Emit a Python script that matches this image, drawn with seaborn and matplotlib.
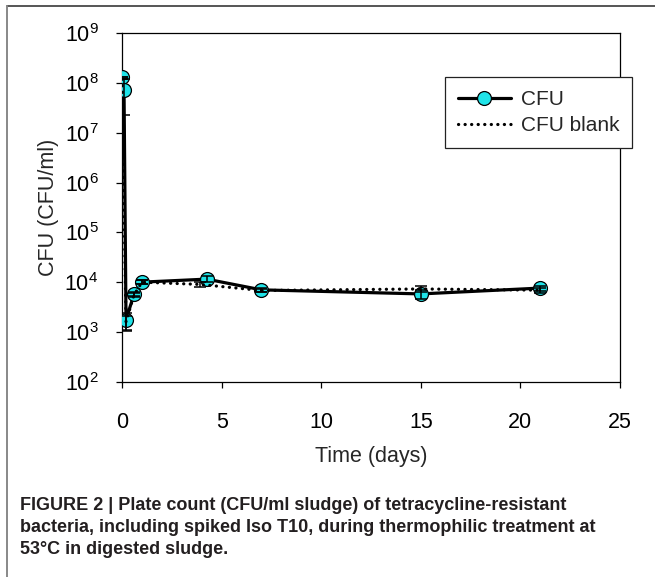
import matplotlib
matplotlib.use("Agg")
import numpy as np
import pandas as pd
import seaborn as sns
import matplotlib.pyplot as plt
from matplotlib import font_manager
from matplotlib.lines import Line2D

# Plate counts of tetracycline-resistant bacteria (CFU/ml sludge)
cfu_days = [0.0, 0.1, 0.2, 0.6, 1.0, 4.25, 7.0, 15.0, 21.0]
cfu_values = [1.3e8, 7.3e7, 1.75e3, 5.7e3, 1.0e4, 1.15e4, 7.0e3, 5.8e3, 7.6e3]
cfu_err = [0.0, 5.0e7, 7.0e2, 5.0e2, 8.0e2, 1.5e3, 6.0e2, 1.2e3, 9.0e2]

blank_days = [0.0, 0.2, 0.6, 1.0, 3.9, 7.0, 15.0, 21.0]
blank_values = [1.2e8, 1.6e3, 5.5e3, 1.0e4, 9.0e3, 6.8e3, 7.3e3, 6.9e3]
blank_err = [0.0, 5.0e2, 5.0e2, 8.0e2, 1.0e3, 5.0e2, 1.0e3, 8.0e2]

x_ticks = [0, 5, 10, 15, 20, 25]
y_exponents = [2, 3, 4, 5, 6, 7, 8, 9]

series_labels = ["CFU", "CFU blank"]
x_label = "Time (days)"
y_label = "CFU (CFU/ml)"
caption_lines = [
    "FIGURE 2 | Plate count (CFU/ml sludge) of tetracycline-resistant",
    "bacteria, including spiked Iso T10, during thermophilic treatment at",
    "53°C in digested sludge.",
]

MARKER_CYAN = "#1FE3E8"

sns.set_style("ticks")
plt.rcParams["font.family"] = ["Liberation Sans", "DejaVu Sans"]
plt.rcParams["mathtext.fontset"] = "custom"
plt.rcParams["mathtext.rm"] = "Liberation Sans"
plt.rcParams["mathtext.default"] = "regular"

available = {f.name for f in font_manager.fontManager.ttflist}
caption_family = "Liberation Sans Narrow" if "Liberation Sans Narrow" in available else "Liberation Sans"

cfu_df = pd.DataFrame({"day": cfu_days, "count": cfu_values, "err": cfu_err})
blank_df = pd.DataFrame({"day": blank_days, "count": blank_values, "err": blank_err})

fig = plt.figure(figsize=(6.55, 5.77), dpi=100)
ax = fig.add_axes([0.1863, 0.3385, 0.7603, 0.6038])

# solid series with cyan markers
sns.lineplot(data=cfu_df, x="day", y="count", ax=ax, color="black", lw=2.3,
             marker="o", markersize=10, markerfacecolor=MARKER_CYAN,
             markeredgecolor="black", markeredgewidth=0.9,
             label=series_labels[0], zorder=3, estimator=None, sort=False)

# dotted blank series, no markers
sns.lineplot(data=blank_df, x="day", y="count", ax=ax, color="black", lw=2.3,
             linestyle=(0, (0.05, 2.0)), dash_capstyle="round",
             label=series_labels[1], zorder=4, estimator=None, sort=False)

# error bars sit over the markers
ax.errorbar(cfu_df["day"], cfu_df["count"], yerr=cfu_df["err"], fmt="none",
            ecolor="black", elinewidth=1.1, capsize=4, capthick=1.1, zorder=5)
ax.errorbar(blank_df["day"], blank_df["count"], yerr=blank_df["err"], fmt="none",
            ecolor="black", elinewidth=1.1, capsize=4, capthick=1.1, zorder=5)

ax.set_yscale("log")
ax.set_ylim(1e2, 1e9)
ax.set_xlim(0, 25)
ax.set_xticks(x_ticks)
ax.set_xticklabels([str(t) for t in x_ticks])
ax.set_yticks([10.0 ** e for e in y_exponents])
ax.set_yticklabels([f"10$^{{{e}}}$" for e in y_exponents])
ax.yaxis.set_minor_locator(matplotlib.ticker.NullLocator())

for side in ["top", "right", "left", "bottom"]:
    ax.spines[side].set_visible(True)
    ax.spines[side].set_color("black")
    ax.spines[side].set_linewidth(0.9)

ax.tick_params(axis="both", which="major", direction="out", length=4,
               width=0.9, color="black", labelsize=15.5, labelcolor="black")
ax.tick_params(axis="x", pad=18)
ax.tick_params(axis="y", pad=13)
ax.tick_params(top=False, right=False)

ax.set_xlabel(x_label, fontsize=15.5, labelpad=9)
ax.set_ylabel(y_label, fontsize=15.5, labelpad=4)

leg = ax.legend(loc="upper left", bbox_to_anchor=(0.6486, 0.8737),
                borderaxespad=0, fontsize=15, handlelength=2.55,
                handletextpad=0.5, labelspacing=0.35, borderpad=0.6,
                frameon=True, fancybox=False, framealpha=1)
leg.get_frame().set_edgecolor("#222222")
leg.get_frame().set_linewidth(0.9)
leg.set_zorder(10)

# caption under the chart
for i, line in enumerate(caption_lines):
    fig.text(20 / 655, 1 - (505 + 22 * i) / 577, line, ha="left", va="center",
             fontsize=13, fontweight="bold", family=caption_family,
             color="#231F20")

# frame edges along top and left of the figure panel
fig.add_artist(Line2D([7 / 655, 1.0], [1 - 6 / 577, 1 - 6 / 577],
                      transform=fig.transFigure, color="#555555", lw=1.4))
fig.add_artist(Line2D([7 / 655, 7 / 655], [0.0, 1 - 6 / 577],
                      transform=fig.transFigure, color="#888888", lw=1.4))

fig.savefig("out.png", dpi=100)
